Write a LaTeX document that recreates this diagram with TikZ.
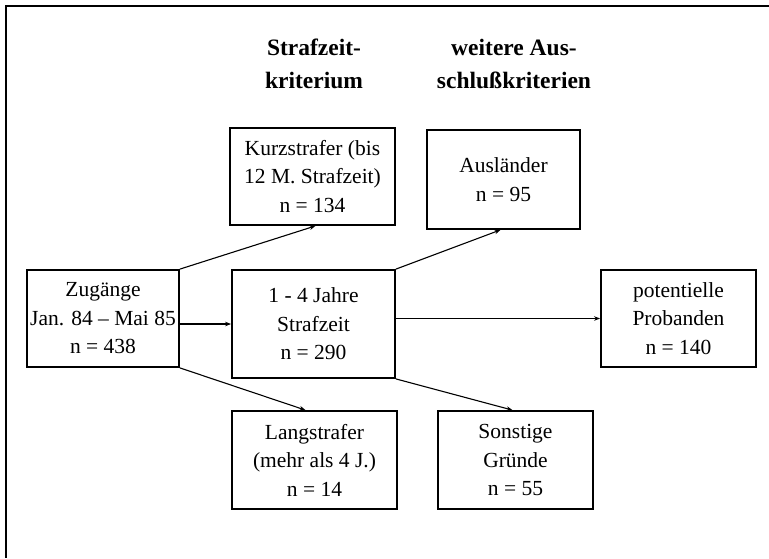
\documentclass[tikz,border=0pt]{standalone}
\usepackage{fontspec}
\setmainfont{Liberation Serif}
\usetikzlibrary{arrows.meta}
\begin{document}
\begin{tikzpicture}[x=1pt,y=-1pt,
  box/.style={draw, line width=1.8pt, align=center, inner sep=0pt,
    font=\fontsize{21.5}{28.5}\selectfont},
  head/.style={align=center, font=\fontsize{23.5}{33}\selectfont\bfseries},
  conn/.style={line width=1.1pt, -{Stealth[length=6pt,width=4.5pt]}},
  frame/.style={line width=2.4pt}]
\useasboundingbox (0,0) rectangle (769,558);
\coordinate (tl) at (6,6);
\coordinate (tr) at (769,6);
\coordinate (bl) at (6,558);
\draw[frame] (tr) -- (tl) -- (bl);
\node[head] (h1) at (314,64) {Strafzeit-\\kriterium};
\node[head] (h2) at (514,64) {weitere Aus-\\schlußkriterien};
\node[box, minimum width=165pt, minimum height=97pt] (kurz) at (312.5,176.5) {Kurzstrafer (bis\\12 M. Strafzeit)\\n = 134};
\node[box, minimum width=153pt, minimum height=99pt] (aus) at (503.5,179.5) {Ausländer\\n = 95};
\node[box, minimum width=152pt, minimum height=97pt] (zug) at (103,318.5) {Zugänge\\Jan. 84 – Mai 85\\n = 438};
\node[box, minimum width=163pt, minimum height=108pt] (mid) at (313.5,324) {1 - 4 Jahre\\Strafzeit\\n = 290};
\node[box, minimum width=155pt, minimum height=97pt] (pot) at (678.5,318.5) {potentielle\\Probanden\\n = 140};
\node[box, minimum width=165pt, minimum height=98pt] (lang) at (314.5,460) {Langstrafer\\(mehr als 4 J.)\\n = 14};
\node[box, minimum width=155pt, minimum height=98pt] (son) at (515.5,460) {Sonstige\\Gründe\\n = 55};
\draw[conn] (zug.north east) -- ([xshift=3pt]kurz.south);
\draw[conn] (zug.east |- mid.west) -- (mid.west);
\draw[conn] (zug.south east) -- ([xshift=-9pt]lang.north);
\draw[conn] (mid.north east) -- ([xshift=-3pt]aus.south);
\draw[conn] (mid.east |- pot.west) -- (pot.west);
\draw[conn] (mid.south east) -- ([xshift=-3pt]son.north);
\end{tikzpicture}
\end{document}
